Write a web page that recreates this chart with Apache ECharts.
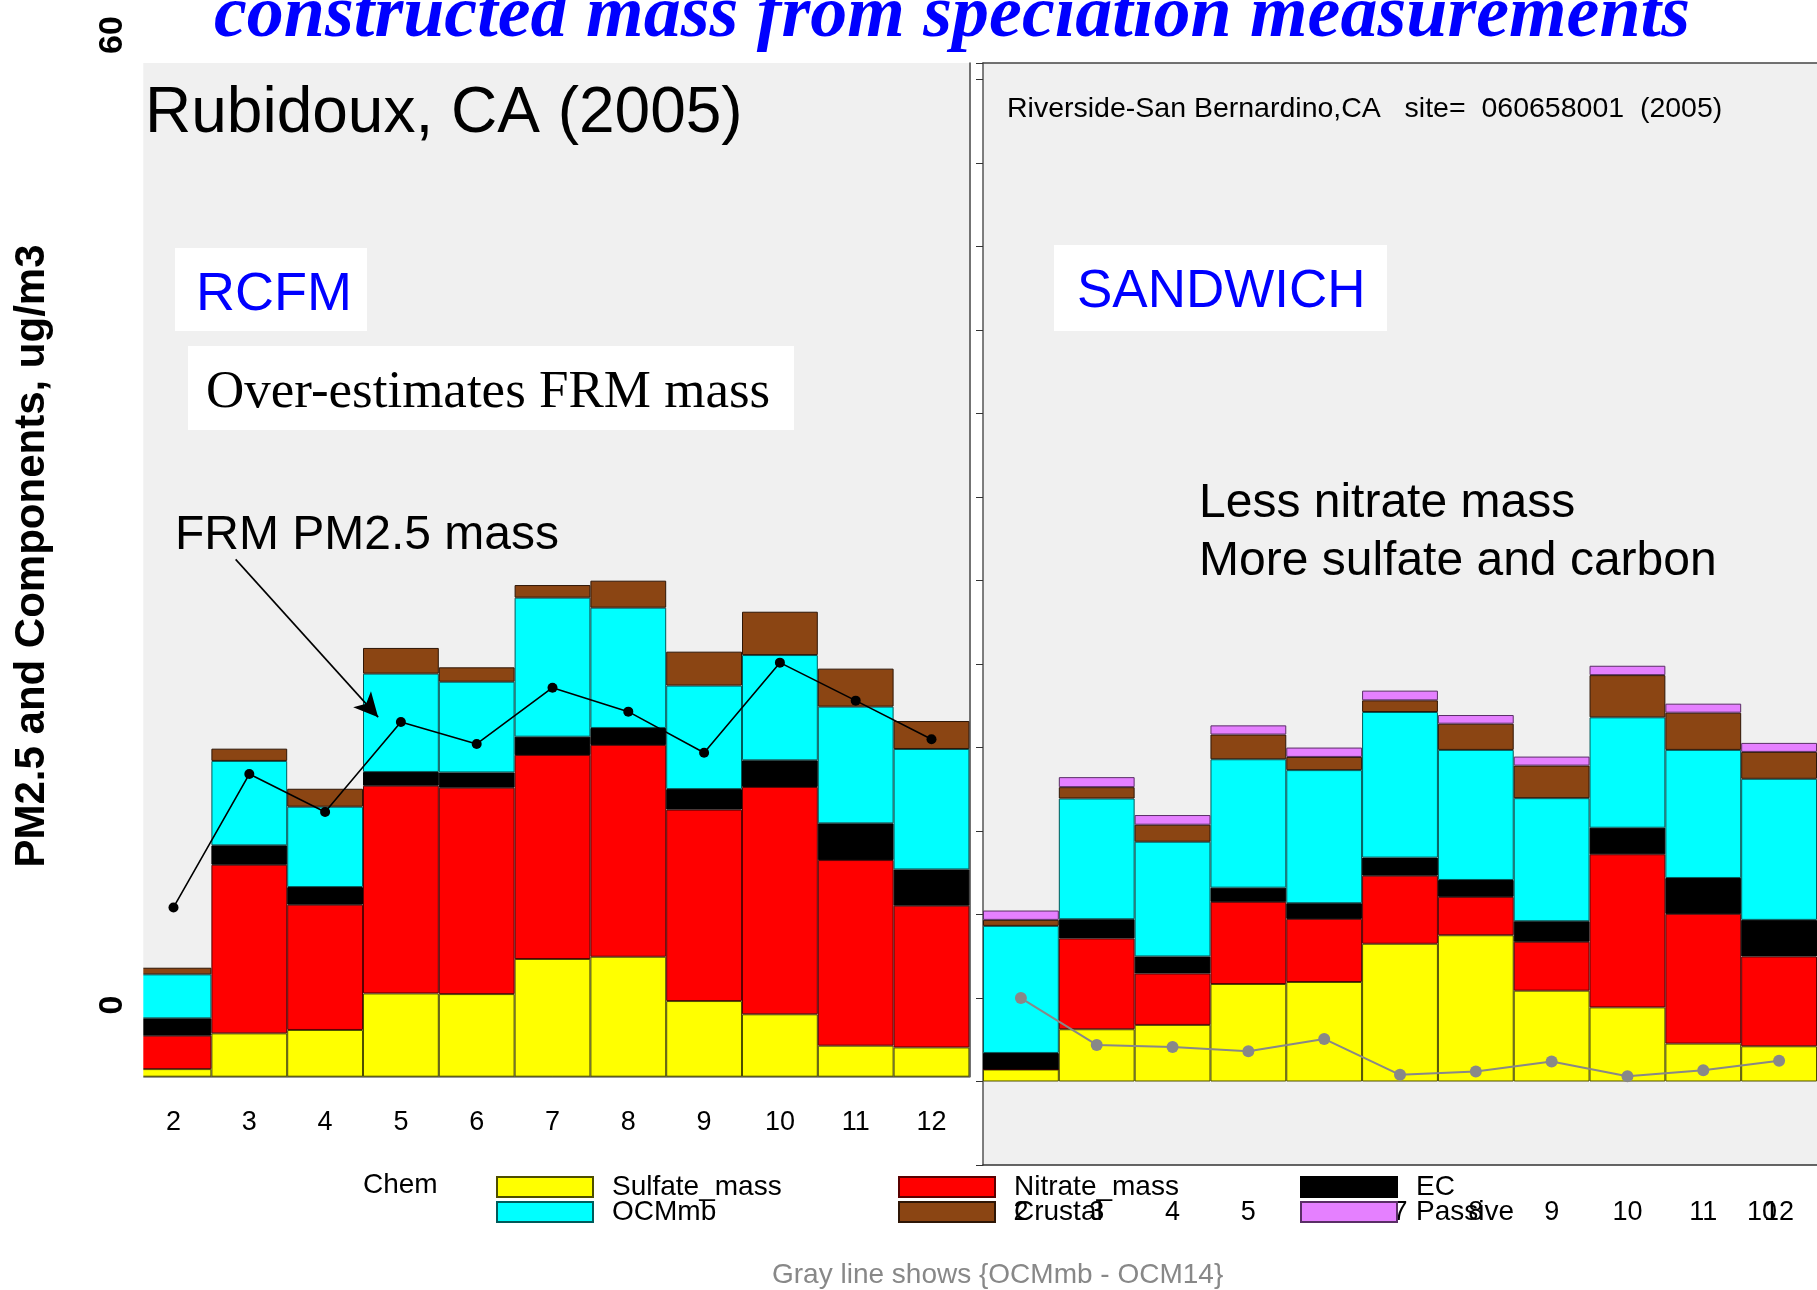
<!DOCTYPE html>
<html>
<head>
<meta charset="utf-8">
<script src="https://cdn.jsdelivr.net/npm/echarts@6/dist/echarts.min.js"></script>
<style>
html,body{margin:0;padding:0;background:#fff;}
#chart{width:1817px;height:1290px;}
</style>
</head>
<body>
<div id="chart"></div>
<script>
// ---------- DATA ----------
const months = ['2', '3', '4', '5', '6', '7', '8', '9', '10', '11', '12'];
const monthNums = [2, 3, 4, 5, 6, 7, 8, 9, 10, 11, 12];

// Left panel: Rubidoux, CA (2005) - RCFM
const L_sulfate = [0.47, 2.68, 2.89, 5.15, 5.11, 7.28, 7.42, 4.68, 3.86, 1.92, 1.81];
const L_nitrate = [2.07, 10.43, 7.75, 12.85, 12.77, 12.62, 13.10, 11.84, 14.06, 11.48, 8.77];
const L_ec      = [1.07, 1.20, 1.09, 0.85, 0.94, 1.13, 1.05, 1.27, 1.65, 2.27, 2.24];
const L_ocm     = [2.72, 5.22, 4.97, 6.08, 5.61, 8.60, 7.44, 6.40, 6.51, 7.22, 7.45];
const L_crustal = [0.41, 0.76, 1.11, 1.59, 0.89, 0.78, 1.67, 2.10, 2.68, 2.35, 1.73];
const L_frm     = [10.47, 18.72, 16.37, 21.94, 20.58, 24.06, 22.58, 20.04, 25.61, 23.26, 20.87];

// Right panel: Riverside-San Bernardino - SANDWICH
const R_sulfate = [0.72, 3.13, 3.39, 5.84, 5.96, 8.25, 8.76, 5.44, 4.44, 2.27, 2.11];
const R_nitrate = [0.00, 5.44, 3.08, 4.92, 3.78, 4.08, 2.30, 2.93, 9.17, 7.77, 5.38];
const R_ec      = [0.99, 1.15, 1.02, 0.85, 0.94, 1.08, 1.01, 1.23, 1.59, 2.15, 2.19];
const R_ocm     = [7.61, 7.23, 6.87, 7.69, 7.97, 8.72, 7.79, 7.37, 6.61, 7.67, 8.45];
const R_crustal = [0.36, 0.68, 1.02, 1.48, 0.79, 0.70, 1.57, 1.95, 2.53, 2.23, 1.61];
const R_passive = [0.56, 0.60, 0.58, 0.55, 0.56, 0.58, 0.52, 0.54, 0.56, 0.54, 0.54];
const R_gray    = [5.00, 2.19, 2.07, 1.81, 2.55, 0.40, 0.60, 1.20, 0.32, 0.68, 1.25];

// Outer y-axis tick labels
const outerTicks = [0, 60];
// Arrow annotation (data coords on left panel): from text to FRM line
const arrowFrom = [2.82, 32.0];
const arrowTo = [4.70, 22.24];

// ---------- STYLES ----------
const SANS = "'Liberation Sans', Arial, Helvetica, sans-serif";
const SERIF = "'Liberation Serif', 'Times New Roman', serif";
const comp = {
  Sulfate_mass: {color: '#ffff00', borderColor: '#4d4d00'},
  Nitrate_mass: {color: '#ff0000', borderColor: '#5a0000'},
  EC:           {color: '#000000', borderColor: '#000000'},
  OCMmb:        {color: '#00ffff', borderColor: '#005a5a'},
  Crustal:      {color: '#8b4513', borderColor: '#2e1606'},
  Passive:      {color: '#e580ff', borderColor: '#5a2e66'}
};
const pair = arr => monthNums.map((m, i) => [m, arr[i]]);
function barSeries(name, arr, xi, yi, stack) {
  return {
    type: 'bar', name: name, stack: stack, xAxisIndex: xi, yAxisIndex: yi,
    barWidth: '100%', data: arr.slice(),
    itemStyle: {color: comp[name].color, borderColor: comp[name].borderColor, borderWidth: 1},
    emphasis: {disabled: true}
  };
}
const hiddenAxisParts = {axisLabel: {show: false}, axisTick: {show: false}, splitLine: {show: false}};
const legendText = {fontSize: 28, color: '#000', fontFamily: SANS, width: 286, height: 20, lineHeight: 20,
                    padding: [0, 0, 0, 14], overflow: 'none'};

const chart = echarts.init(document.getElementById('chart'), null, {renderer: 'canvas'});
const option = {
  animation: false,
  backgroundColor: '#ffffff',
  grid: [
    {left: 135.6, right: 847.6, top: 63, bottom: 213.3, show: true, backgroundColor: '#f0f0f0', borderWidth: 0},
    {left: 983, right: 0, top: 63, bottom: 125, show: true, backgroundColor: '#f0f0f0', borderWidth: 0},
    {left: 138, width: 10, top: 35, bottom: 285, show: false}
  ],
  xAxis: [
    {gridIndex: 0, type: 'category', data: months, position: 'bottom',
     axisLine: {show: true, onZero: false, lineStyle: {color: '#333', width: 1}},
     axisTick: {show: false}, splitLine: {show: false},
     axisLabel: {margin: 32, fontSize: 27, color: '#000', fontFamily: SANS}},
    {gridIndex: 0, type: 'value', min: 1.5, max: 12.5, show: false},
    {gridIndex: 0, type: 'value', min: 0, max: 1, position: 'top',
     axisLine: {show: true, lineStyle: {color: '#777', width: 1.5}}, ...hiddenAxisParts},
    {gridIndex: 1, type: 'category', data: months, position: 'bottom',
     axisLine: {show: true, onZero: false, lineStyle: {color: '#333', width: 1.5}},
     axisTick: {show: false}, splitLine: {show: false},
     axisLabel: {margin: 34, fontSize: 27, color: '#000', fontFamily: SANS}},
    {gridIndex: 1, type: 'value', min: 1.5, max: 12.5, show: false},
    {gridIndex: 1, type: 'value', min: 0, max: 1, position: 'top',
     axisLine: {show: true, lineStyle: {color: '#444', width: 1.5}}, ...hiddenAxisParts},
    {gridIndex: 2, type: 'value', show: false}
  ],
  yAxis: [
    {gridIndex: 0, type: 'value', min: 0, max: 62.7, show: false},
    {gridIndex: 0, type: 'value', min: 0, max: 1, position: 'right',
     axisLine: {show: true, lineStyle: {color: '#444', width: 1.5}}, ...hiddenAxisParts},
    {gridIndex: 1, type: 'value', min: -5, max: 61, interval: 5, position: 'left',
     axisLine: {show: true, onZero: false, lineStyle: {color: '#555', width: 1.5}},
     axisTick: {show: true, inside: false, length: 7, lineStyle: {color: '#333'}},
     axisLabel: {show: false}, splitLine: {show: false}},
    {gridIndex: 2, type: 'value', min: 0, max: 60, position: 'left',
     axisLine: {show: false}, axisTick: {show: false}, splitLine: {show: false},
     axisLabel: {customValues: outerTicks, rotate: 90, margin: 8, fontSize: 34, fontWeight: 'bold',
                 color: '#000', fontFamily: SANS}}
  ],
  legend: [
    {orient: 'horizontal', left: 496, top: 1173, itemWidth: 96, itemHeight: 20, itemGap: 0, icon: 'rect',
     padding: 0, data: ['Sulfate_mass', 'Nitrate_mass', 'EC'], selectedMode: false, textStyle: legendText},
    {orient: 'horizontal', left: 496, top: 1198, itemWidth: 96, itemHeight: 20, itemGap: 0, icon: 'rect',
     padding: 0, data: ['OCMmb', 'Crustal', 'Passive'], selectedMode: false, textStyle: legendText}
  ],
  series: [
    barSeries('Sulfate_mass', L_sulfate, 0, 0, 'L'),
    barSeries('Nitrate_mass', L_nitrate, 0, 0, 'L'),
    barSeries('EC', L_ec, 0, 0, 'L'),
    barSeries('OCMmb', L_ocm, 0, 0, 'L'),
    barSeries('Crustal', L_crustal, 0, 0, 'L'),
    {type: 'line', name: 'FRM PM2.5 mass', xAxisIndex: 1, yAxisIndex: 0, data: pair(L_frm),
     symbol: 'circle', symbolSize: 10, showSymbol: true, z: 5,
     lineStyle: {color: '#000', width: 1.6}, itemStyle: {color: '#000'},
     emphasis: {disabled: true},
     markLine: {silent: true, symbol: ['none', 'arrow'], symbolSize: [18, 24], animation: false,
       lineStyle: {color: '#000', width: 1.6, type: 'solid'}, label: {show: false},
       data: [[{coord: arrowFrom}, {coord: arrowTo}]]}},
    barSeries('Sulfate_mass', R_sulfate, 3, 2, 'R'),
    barSeries('Nitrate_mass', R_nitrate, 3, 2, 'R'),
    barSeries('EC', R_ec, 3, 2, 'R'),
    barSeries('OCMmb', R_ocm, 3, 2, 'R'),
    barSeries('Crustal', R_crustal, 3, 2, 'R'),
    barSeries('Passive', R_passive, 3, 2, 'R'),
    {type: 'line', name: 'OCMmb - OCM14', xAxisIndex: 4, yAxisIndex: 2, data: pair(R_gray),
     symbol: 'circle', symbolSize: 12, showSymbol: true, z: 5,
     lineStyle: {color: '#888', width: 2}, itemStyle: {color: '#888'},
     emphasis: {disabled: true}}
  ],
  graphic: [
    {type: 'rect', z: 100, shape: {x: 134, y: 58, width: 9.3, height: 1022}, style: {fill: '#fff'}},
    {type: 'text', x: 952, y: 17, z: 20, style: {text: 'constructed mass from speciation measurements',
      fill: '#0000ff', fontSize: 74, fontWeight: 'bold', fontStyle: 'italic', fontFamily: SERIF,
      align: 'center', verticalAlign: 'middle'}},
    {type: 'text', x: 32, y: 556, rotation: Math.PI / 2, z: 20, style: {text: 'PM2.5 and Components, ug/m3',
      fill: '#000', fontSize: 42, fontWeight: 'bold', fontFamily: SANS, align: 'center', verticalAlign: 'middle'}},
    {type: 'text', x: 145, y: 114, z: 20, style: {text: 'Rubidoux, CA (2005)', fill: '#000',
      fontSize: 64, fontFamily: SANS, align: 'left', verticalAlign: 'middle'}},
    {type: 'text', x: 1007, y: 109, z: 20, style: {text: 'Riverside-San Bernardino,CA   site=  060658001  (2005)',
      fill: '#000', fontSize: 28.5, fontFamily: SANS, align: 'left', verticalAlign: 'middle'}},
    {type: 'rect', z: 15, shape: {x: 175, y: 248, width: 192, height: 83}, style: {fill: '#fff'}},
    {type: 'text', x: 196, y: 295, z: 20, style: {text: 'RCFM', fill: '#0000ff', fontSize: 54,
      fontFamily: SANS, align: 'left', verticalAlign: 'middle'}},
    {type: 'rect', z: 15, shape: {x: 188, y: 346, width: 606, height: 84}, style: {fill: '#fff'}},
    {type: 'text', x: 206, y: 393, z: 20, style: {text: 'Over-estimates FRM mass', fill: '#000', fontSize: 53,
      fontFamily: SERIF, align: 'left', verticalAlign: 'middle'}},
    {type: 'text', x: 175, y: 536, z: 20, style: {text: 'FRM PM2.5 mass', fill: '#000', fontSize: 48,
      fontFamily: SANS, align: 'left', verticalAlign: 'middle'}},
    {type: 'rect', z: 15, shape: {x: 1054, y: 245, width: 333, height: 86}, style: {fill: '#fff'}},
    {type: 'text', x: 1077, y: 292, z: 20, style: {text: 'SANDWICH', fill: '#0000ff', fontSize: 53,
      fontFamily: SANS, align: 'left', verticalAlign: 'middle'}},
    {type: 'text', x: 1199, y: 504, z: 20, style: {text: 'Less nitrate mass', fill: '#000', fontSize: 48,
      fontFamily: SANS, align: 'left', verticalAlign: 'middle'}},
    {type: 'text', x: 1199, y: 562, z: 20, style: {text: 'More sulfate and carbon', fill: '#000', fontSize: 48,
      fontFamily: SANS, align: 'left', verticalAlign: 'middle'}},
    {type: 'text', x: 363, y: 1185, z: 20, style: {text: 'Chem', fill: '#000', fontSize: 28,
      fontFamily: SANS, align: 'left', verticalAlign: 'middle'}},
    {type: 'text', x: 772, y: 1275, z: 20, style: {text: 'Gray line shows {OCMmb - OCM14}', fill: '#888',
      fontSize: 28, fontFamily: SANS, align: 'left', verticalAlign: 'middle'}},
    {type: 'text', x: 1762, y: 1213, z: 1, style: {text: '10', fill: '#000', fontSize: 27,
      fontFamily: SANS, align: 'center', verticalAlign: 'middle'}}
  ]
};
chart.setOption(option);
</script>
</body>
</html>
